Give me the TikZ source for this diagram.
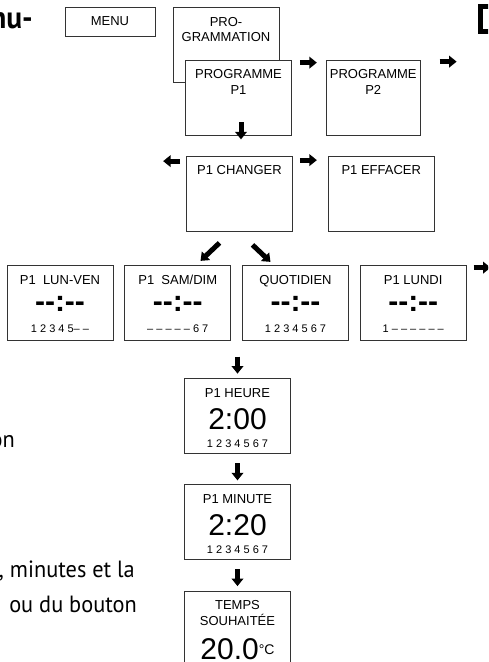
\documentclass[tikz,border=0pt]{standalone}
\usepackage{fontspec}
\setmainfont{Liberation Sans}
\newfontfamily\bodyfont{PT Sans}[FakeStretch=0.95]
\usepackage{tikz}
\usetikzlibrary{arrows.meta, positioning}

\begin{document}
\begin{tikzpicture}[x=1pt, y=-1pt, node distance=11pt]
  \tikzset{
    scr/.style={rectangle, draw=black!80, line width=0.75pt, fill=white,
      minimum width=106pt, minimum height=75pt, inner sep=0pt},
    ttl/.style={font=\fontsize{13}{15}\selectfont, inner sep=0pt, anchor=base},
    lcd/.style={font=\bfseries\fontsize{30}{32}\selectfont, inner sep=0pt, anchor=base},
    bignum/.style={font=\fontsize{30}{32}\selectfont, inner sep=0pt, anchor=base},
    days/.style={font=\fontsize{11}{12}\selectfont, inner sep=0pt, anchor=base},
    body/.style={font=\bodyfont\fontsize{23.5}{26}\selectfont, inner sep=0pt, anchor=base east},
    blk/.style={-{Triangle[length=7.5pt, width=11.5pt]}, line width=5pt, color=black}
  }
  \useasboundingbox (0,0) rectangle (488,662);
  \clip (0,0) rectangle (488,662);
  % page text cut off at the left
  \node[body, font=\bodyfont\bfseries\fontsize{31}{32}\selectfont] (headtxt) at (33,28) {nu-};
  \node[body] (ontxt) at (15,447) {on};
  \node[body] (mintxt) at (135,577) {, minutes et la};
  \node[body] (boutxt) at (137,612) {ou du bouton};
  % menu level
  \node[scr, minimum width=90pt, minimum height=29pt, font=\fontsize{13}{15}\selectfont] (menu) at (110,21.5) {MENU};
  \node[scr] (prog) at (226,44.5) {};
  \node[ttl] (progA) at ([yshift=-19.5pt]prog.north) {PRO-};
  \node[ttl] (progB) at ([yshift=-34.5pt]prog.north) {GRAMMATION};
  \node[draw, line width=5pt, minimum width=25pt, minimum height=25pt] (nextpg) at (493,19) {};
  % programmes
  \node[scr] (p1) at (238.5,97.5) {};
  \node[scr, minimum width=94pt, right=34pt of p1] (p2) {};
  \node[ttl] (p1A) at ([yshift=-18.5pt]p1.north) {PROGRAMME};
  \node[ttl] (p1B) at ([yshift=-34.5pt]p1.north) {P1};
  \node[ttl] (p2A) at ([yshift=-18.5pt]p2.north) {PROGRAMME};
  \node[ttl] (p2B) at ([yshift=-34.5pt]p2.north) {P2};
  % change / delete
  \node[scr] (chg) at (239.5,194) {};
  \node[scr, right=35pt of chg] (eff) {};
  \node[ttl] (chgA) at ([yshift=-18pt]chg.north) {P1 CHANGER};
  \node[ttl] (effA) at ([yshift=-18pt]eff.north) {P1 EFFACER};
  % days
  \node[scr] (quot) at (295.5,302.5) {};
  \node[scr, left=of quot] (samdim) {};
  \node[scr, left=of samdim] (lunven) {};
  \node[scr, right=of quot] (lundi) {};
  \node[ttl] (lvA) at ([yshift=-20pt]lunven.north) {P1\ \ LUN-VEN};
  \node[lcd] (lvB) at ([yshift=-47pt]lunven.north) {-\kern0pt-:-\kern0pt-};
  \node[days] (lvC) at ([yshift=-68pt]lunven.north) {1 2 3 4 5– –};
  \node[ttl] (sdA) at ([yshift=-20pt]samdim.north) {P1\ \ SAM/DIM};
  \node[lcd] (sdB) at ([yshift=-47pt]samdim.north) {-\kern0pt-:-\kern0pt-};
  \node[days] (sdC) at ([yshift=-68pt]samdim.north) {– – – – – 6 7};
  \node[ttl] (qtA) at ([yshift=-20pt]quot.north) {QUOTIDIEN};
  \node[lcd] (qtB) at ([yshift=-47pt]quot.north) {-\kern0pt-:-\kern0pt-};
  \node[days] (qtC) at ([yshift=-68pt]quot.north) {1 2 3 4 5 6 7};
  \node[ttl] (luA) at ([yshift=-20pt]lundi.north) {P1 LUNDI};
  \node[lcd] (luB) at ([yshift=-47pt]lundi.north) {-\kern0pt-:-\kern0pt-};
  \node[days] (luC) at ([yshift=-68pt]lundi.north) {1 – – – – – –};
  % hour, minute, temperature
  \node[scr] (heure) at (237.5,415.5) {};
  \node[scr, below=31pt of heure] (minute) {};
  \node[scr, below=31pt of minute] (temps) {};
  \node[ttl] (hrA) at ([yshift=-20pt]heure.north) {P1 HEURE};
  \node[bignum] (hrB) at ([yshift=-52pt]heure.north) {2:00};
  \node[days] (hrC) at ([yshift=-70pt]heure.north) {1 2 3 4 5 6 7};
  \node[ttl] (mnA) at ([yshift=-19pt]minute.north) {P1 MINUTE};
  \node[bignum] (mnB) at ([yshift=-51pt]minute.north) {2:20};
  \node[days] (mnC) at ([yshift=-69pt]minute.north) {1 2 3 4 5 6 7};
  \node[ttl] (tpA) at ([yshift=-18pt]temps.north) {TEMPS};
  \node[ttl] (tpB) at ([yshift=-34pt]temps.north) {SOUHAITÉE};
  \node[bignum] (tpC) at ([yshift=-68pt]temps.north) {20.0\raisebox{5pt}{\fontsize{14}{14}\selectfont °C}};
  % arrows
  \draw[blk] ([xshift=8pt, yshift=-3pt]p1.north east) -- ++(17,0);
  \draw[blk] ([xshift=19pt, yshift=-2pt]p2.north east) -- ++(17,0);
  \draw[blk] ([xshift=2.5pt, yshift=13pt]p1.south) -- ++(0,17);
  \draw[blk] ([xshift=-6pt, yshift=-5pt]chg.north west) -- ++(-17,0);
  \draw[blk] ([xshift=7pt, yshift=-4pt]chg.north east) -- ++(17,0);
  \draw[blk] ([xshift=-20pt, yshift=-11pt]chg.south) -- ++(-19,18);
  \draw[blk] ([xshift=13pt, yshift=-13pt]chg.south) -- ++(18,17);
  \draw[blk] ([xshift=7pt, yshift=-3pt]lundi.north east) -- ++(17,0);
  \draw[blk] ([yshift=21pt]heure.north) -- ++(0,17);
  \draw[blk] ([yshift=21pt]minute.north) -- ++(0,17);
  \draw[blk] ([yshift=22pt]temps.north) -- ++(0,17);
\end{tikzpicture}
\end{document}
